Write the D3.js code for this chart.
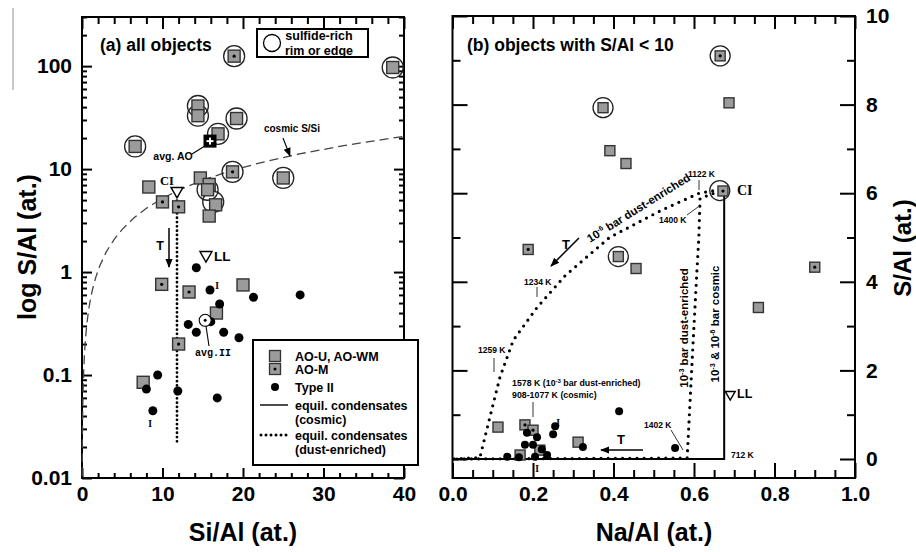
<!DOCTYPE html>
<html><head><meta charset="utf-8">
<script src="https://cdn.jsdelivr.net/npm/d3@7/dist/d3.min.js"></script>
<style>
body{margin:0;background:#fff;}
svg{font-family:"Liberation Sans",Arial,sans-serif;font-weight:bold;}
.serif{font-family:"Liberation Serif","Times New Roman",serif;}
.mono{font-family:"Liberation Mono","DejaVu Sans Mono",monospace;}
</style></head>
<body><svg id="c" width="916" height="552"></svg>
<script>
// ---------- data: panel (a) Si/Al vs S/Al (log) ----------
const aAOU = [[38.6,97],[14.4,41],[14.4,33],[19.2,31],[16.9,22],[6.6,16.6],[25.0,8.2],[8.3,6.7],[14.7,8.2],[15.8,7.1],[15.6,6.3],[16.6,4.5],[15.8,3.5],[20.0,0.75],[16.7,0.40],[7.6,0.085]];
const aAOM = [[18.9,125],[18.7,9.4],[10.0,4.8],[12.0,4.3],[9.9,0.76],[13.3,0.64],[12.0,0.20]];
const aTypeII = [[14.2,1.1],[15.9,0.67],[21.3,0.57],[27.1,0.60],[17.1,0.49],[16.0,0.33],[13.2,0.31],[14.2,0.26],[17.6,0.26],[19.5,0.23],[8.0,0.073],[9.4,0.10],[11.9,0.07],[8.8,0.045],[16.8,0.06]];
const aRims = [[18.9,125],[38.6,97],[14.4,41],[14.4,33],[19.2,31],[16.9,22],[6.6,16.6],[18.7,9.4],[25.0,8.2],[15.6,6.3],[16.3,4.8]];
const aAvgAO = [15.9,18.7];
const aAvgII = [15.3,0.34];
const aCI = [11.8,6.0];
const aLL = [15.4,1.43];
const aDustLine = [[11.8,6.0],[11.8,0.021]];
const cosmicSSi = 0.52; // cosmic S/Si ratio line
const cosmicX = [0.02,0.03,0.05,0.07,0.1,0.15,0.2,0.3,0.45,0.6,0.8,1,1.3,1.7,2.2,3,4,5,6.5,8,10,12,15,18,22,27,33,40];
const aXMajor = [0,10,20,30,40];
const aYMajor = [0.01,0.1,1,10,100];

// ---------- data: panel (b) Na/Al vs S/Al ----------
const bAOU = [[0.687,8.04],[0.374,7.93],[0.391,6.96],[0.431,6.67],[0.412,4.57],[0.456,4.30],[0.76,3.42],[0.113,0.72],[0.312,0.38],[0.168,0.09]];
const bAOM = [[0.665,9.1],[0.672,6.05],[0.188,4.73],[0.90,4.33],[0.18,0.77],[0.20,0.65],[0.217,0.20]];
const bTypeII = [[0.185,0.59],[0.21,0.49],[0.255,0.74],[0.25,0.56],[0.414,1.08],[0.324,0.27],[0.553,0.25],[0.18,0.32],[0.20,0.32],[0.222,0.22],[0.235,0.09],[0.205,0.05],[0.165,0.04],[0.136,0.05]];
const bRims = [[0.665,9.1],[0.374,7.93],[0.664,6.06],[0.412,4.57]];
const bLL = [0.69,1.44];
const bCosmic = [[0.675,6.02],[0.675,0],[0,0]];
const bDust3 = [[0.664,6.05],[0.615,5.88],[0.612,5.0],[0.607,4.2],[0.597,2.5],[0.583,0.02],[0,0]];
const bDust6 = [[0.664,6.08],[0.613,6.0],[0.52,5.62],[0.39,5.0],[0.28,4.14],[0.21,3.42],[0.151,2.68],[0.118,1.85],[0.093,0.95],[0.068,0.03],[0,0]];
const bXMajor = [0,0.2,0.4,0.6,0.8,1.0];
const bYMajor = [0,2,4,6,8,10];

const svg = d3.select("#c");
const defs = svg.append("defs");
defs.append("marker").attr("id","arr").attr("viewBox","0 0 10 10").attr("refX",9).attr("refY",5)
  .attr("markerWidth",9).attr("markerHeight",9).attr("markerUnits","userSpaceOnUse").attr("orient","auto")
  .append("path").attr("d","M0,1 L10,5 L0,9 Z").attr("fill","#000");

// scales
const xA = d3.scaleLinear().domain([0,40]).range([82,404]);
const yA = d3.scaleLog().domain([0.01,300]).range([478,17]);
const xB = d3.scaleLinear().domain([0,1]).range([452.5,855]);
const yB = d3.scaleLinear().domain([0,10]).range([459,16]);

// stray thin line at far left
svg.append("line").attr("x1",13).attr("x2",13).attr("y1",8).attr("y2",90).attr("stroke","#777").attr("stroke-width",0.8);

function styleAxis(g, fs){
  g.select(".domain").remove();
  g.selectAll(".tick line").attr("stroke","#000").attr("stroke-width",2);
  g.selectAll(".tick text").attr("font-size",fs).attr("font-weight","bold").attr("fill","#000")
    .attr("font-family","Liberation Sans, Arial, sans-serif");
}
function addAxis(axis, tx, ty, fs){
  const g = svg.append("g").attr("transform",`translate(${tx},${ty})`).call(axis);
  styleAxis(g, fs||19);
  return g;
}

// ----- panel (a) axes -----
const aXMinor = d3.range(2,40,2).filter(v=>v%10!==0);
addAxis(d3.axisBottom(xA).tickValues(aXMajor).tickSize(-10).tickPadding(8).tickFormat(d3.format("d")),0,478,21);
addAxis(d3.axisBottom(xA).tickValues(aXMinor).tickSize(-5).tickFormat(""),0,478);
addAxis(d3.axisTop(xA).tickValues(aXMajor).tickSize(-12).tickFormat(""),0,17);
addAxis(d3.axisTop(xA).tickValues(aXMinor).tickSize(-7).tickFormat(""),0,17);
const aYMinor = [];
[0.01,0.1,1,10,100].forEach(d=>{for(let k=2;k<=9;k++){const v=d*k; if(v<=300) aYMinor.push(v);}});
const fmtA = d=> String(d);
addAxis(d3.axisLeft(yA).tickValues(aYMajor).tickSize(-10).tickPadding(10).tickFormat(fmtA),82,0,21);
addAxis(d3.axisLeft(yA).tickValues(aYMinor).tickSize(-5).tickFormat(""),82,0);
addAxis(d3.axisRight(yA).tickValues(aYMajor).tickSize(-10).tickFormat(""),404,0);
addAxis(d3.axisRight(yA).tickValues(aYMinor).tickSize(-5).tickFormat(""),404,0);
svg.append("rect").attr("x",82).attr("y",17).attr("width",404-82).attr("height",478-17)
  .attr("fill","none").attr("stroke","#000").attr("stroke-width",2);

// ----- panel (b) axes -----
const bXMinor = d3.range(0.05,1.0,0.05).map(v=>+v.toFixed(2)).filter(v=>Math.abs(v*5-Math.round(v*5))>1e-6);
const bYMinor = [1,3,5,7,9];
addAxis(d3.axisBottom(xB).tickValues(bXMajor).tickSize(-15).tickPadding(8).tickFormat(d3.format(".1f")),0,478,21);
addAxis(d3.axisBottom(xB).tickValues(bXMinor).tickSize(-8).tickFormat(""),0,478);
addAxis(d3.axisTop(xB).tickValues(bXMajor).tickSize(-13).tickFormat(""),0,16);
addAxis(d3.axisTop(xB).tickValues(bXMinor).tickSize(-8).tickFormat(""),0,16);
addAxis(d3.axisLeft(yB).tickValues(bYMajor).tickSize(-15).tickFormat(""),452.5,0);
addAxis(d3.axisLeft(yB).tickValues(bYMinor).tickSize(-8).tickFormat(""),452.5,0);
addAxis(d3.axisRight(yB).tickValues(bYMajor).tickSize(-15).tickPadding(11).tickFormat(d3.format("d")),855,0,21);
addAxis(d3.axisRight(yB).tickValues(bYMinor).tickSize(-8).tickFormat(""),855,0);
svg.append("rect").attr("x",452.5).attr("y",16).attr("width",855-452.5).attr("height",478-16)
  .attr("fill","none").attr("stroke","#000").attr("stroke-width",2);

// axis titles
svg.append("text").attr("x",243).attr("y",541).attr("text-anchor","middle").attr("font-size",25).text("Si/Al (at.)");
svg.append("text").attr("x",654).attr("y",541).attr("text-anchor","middle").attr("font-size",25).text("Na/Al (at.)");
svg.append("text").attr("transform","translate(36,247) rotate(-90)").attr("text-anchor","middle").attr("font-size",25).text("log S/Al (at.)");
svg.append("text").attr("transform","translate(911,248) rotate(-90)").attr("text-anchor","middle").attr("font-size",24).text("S/Al (at.)");

// helpers
function squares(data, xs, ys, size, dotted){
  const h=size/2;
  const g=svg.append("g");
  data.forEach(d=>{
    const cx=xs(d[0]), cy=ys(d[1]);
    g.append("rect").attr("x",cx-h).attr("y",cy-h).attr("width",size).attr("height",size)
      .attr("fill","#9b9b9b").attr("stroke","#333").attr("stroke-width",1.4);
    if(dotted) g.append("circle").attr("cx",cx).attr("cy",cy).attr("r",1.6).attr("fill","#000");
  });
}
function dots(data, xs, ys, r){
  svg.append("g").selectAll("circle").data(data).join("circle")
    .attr("cx",d=>xs(d[0])).attr("cy",d=>ys(d[1])).attr("r",r).attr("fill","#000");
}
function rims(data, xs, ys, r){
  svg.append("g").selectAll("circle").data(data).join("circle")
    .attr("cx",d=>xs(d[0])).attr("cy",d=>ys(d[1])).attr("r",r)
    .attr("fill","none").attr("stroke","#222").attr("stroke-width",1.3);
}
function tri(p, xs, ys, s){
  const cx=xs(p[0]), cy=ys(p[1]);
  svg.append("path").attr("d",`M${cx-s},${cy-s*0.75} L${cx+s},${cy-s*0.75} L${cx},${cy+s} Z`)
    .attr("fill","#fff").attr("stroke","#000").attr("stroke-width",1.4);
}
function txt(x,y,s,fs,anchor,cls){
  return svg.append("text").attr("x",x).attr("y",y).attr("font-size",fs)
    .attr("text-anchor",anchor||"start").attr("class",cls||null).text(s);
}
function seg(x1,y1,x2,y2,w,arrow,col){
  const l=svg.append("line").attr("x1",x1).attr("y1",y1).attr("x2",x2).attr("y2",y2)
    .attr("stroke",col||"#000").attr("stroke-width",w||1);
  if(arrow) l.attr("marker-end","url(#arr)");
  return l;
}

// ----- panel (a) content -----
const lineA = d3.line().x(d=>xA(d[0])).y(d=>yA(d[1]));
svg.append("path").attr("d",lineA(cosmicX.map(x=>[x,cosmicSSi*x]))).attr("fill","none")
  .attr("stroke","#444").attr("stroke-width",1.3).attr("stroke-dasharray","9,5");
svg.append("path").attr("d",lineA(aDustLine)).attr("fill","none").attr("stroke","#000")
  .attr("stroke-width",2.8).attr("stroke-dasharray","0,4.3").attr("stroke-linecap","round");

rims(aRims, xA, yA, 10.5);
squares(aAOU, xA, yA, 12, false);
squares(aAOM, xA, yA, 12, true);
dots(aTypeII, xA, yA, 4.5);
// avg AO
{const cx=xA(aAvgAO[0]), cy=yA(aAvgAO[1]);
 svg.append("rect").attr("x",cx-6.5).attr("y",cy-6.5).attr("width",13).attr("height",13).attr("fill","#000");
 seg(cx-3.5,cy,cx+3.5,cy,2,false,"#fff"); seg(cx,cy-3.5,cx,cy+3.5,2,false,"#fff");}
// avg II
{const cx=xA(aAvgII[0]), cy=yA(aAvgII[1]);
 svg.append("circle").attr("cx",cx).attr("cy",cy).attr("r",6).attr("fill","#fff").attr("stroke","#000").attr("stroke-width",1.1);
 svg.append("circle").attr("cx",cx).attr("cy",cy).attr("r",1.5).attr("fill","#000");}
tri(aCI, xA, yA, 6);
tri(aLL, xA, yA, 6);

txt(100,51,"(a) all objects",17.5);
txt(160,185,"CI",12.5,"start","serif");
txt(214,261,"LL",13.5);
txt(160,250,"T",12.5,"middle");
seg(169,228,169,267,1.5,true);
txt(173,160,"avg. AO",10.5,"middle");
seg(192,154,208,144,1.1);
txt(213,356,"avg.II",10,"middle","mono");
seg(206,326,209,346,1.1);
txt(292,132,"cosmic S/Si",10,"middle");
seg(283,138,290,156,1.1,true);
txt(217,289,"I",9.5,"middle","serif");
txt(150,427,"I",9.5,"middle","serif");

// sulfide-rich box
svg.append("rect").attr("x",257).attr("y",29).attr("width",111).attr("height",28).attr("fill","#fff").attr("stroke","#000").attr("stroke-width",2);
svg.append("circle").attr("cx",272).attr("cy",43).attr("r",8.5).attr("fill","none").attr("stroke","#000").attr("stroke-width",1.3);
txt(319,40,"sulfide-rich",12.5,"middle");
txt(319,55,"rim or edge",12.5,"middle");

// legend
svg.append("rect").attr("x",253).attr("y",340).attr("width",165).attr("height",125).attr("fill","#fff").attr("stroke","#000").attr("stroke-width",2);
const lx=275;
const legTexts = [["AO-U, AO-WM",361],["AO-M",374],["Type II",392],["equil. condensates",410],["(cosmic)",424],["equil. condensates",440],["(dust-enriched)",454]];
legTexts.forEach(t=>txt(295,t[1],t[0],12.5));
svg.append("rect").attr("x",lx-5.5).attr("y",356-5.5).attr("width",11).attr("height",11).attr("fill","#9b9b9b").attr("stroke","#333").attr("stroke-width",1.3);
svg.append("rect").attr("x",lx-5.5).attr("y",369-5.5).attr("width",11).attr("height",11).attr("fill","#9b9b9b").attr("stroke","#333").attr("stroke-width",1.3);
svg.append("circle").attr("cx",lx).attr("cy",369).attr("r",1.5).attr("fill","#000");
svg.append("circle").attr("cx",lx).attr("cy",387).attr("r",4).attr("fill","#000");
seg(260,405,288,405,1.4);
svg.append("line").attr("x1",261).attr("x2",288).attr("y1",435).attr("y2",435).attr("stroke","#000")
  .attr("stroke-width",3).attr("stroke-dasharray","0,5").attr("stroke-linecap","round");

// ----- panel (b) content -----
const lineB = d3.line().x(d=>xB(d[0])).y(d=>yB(d[1]));
svg.append("path").attr("d",lineB(bCosmic)).attr("fill","none").attr("stroke","#000").attr("stroke-width",2);
[bDust3,bDust6].forEach(L=>svg.append("path").attr("d",lineB(L)).attr("fill","none").attr("stroke","#000")
  .attr("stroke-width",3.2).attr("stroke-dasharray","0,7.2").attr("stroke-linecap","round"));

rims(bRims, xB, yB, 10);
squares(bAOU, xB, yB, 10, false);
squares(bAOM, xB, yB, 10, true);
dots(bTypeII, xB, yB, 4);
tri(bLL, xB, yB, 5);

txt(467,51,"(b) objects with S/Al < 10",17.5);
txt(737,195,"CI",14,"start","serif");
txt(737,398,"LL",12.5);
txt(688,177,"1122 K",8.5);
seg(699,180,699,190,0.8);
txt(659,223,"1400 K",8.5);
seg(687,215,698,207,0.8);
txt(524,285,"1234 K",8.5);
seg(537,287,537,297,0.8);
txt(478,353,"1259 K",8.5);
seg(494,358,494,372,0.8);
txt(644,428,"1402 K",8.5);
seg(671,430,683,450,0.8);
txt(731,458,"712 K",8.5);
{const t=txt(512,386,"",8.8); t.append("tspan").text("1578 K (10");
 t.append("tspan").attr("font-size",6).attr("dy",-3).text("-3");
 t.append("tspan").attr("dy",3).text(" bar dust-enriched)");}
txt(512,398,"908-1077 K (cosmic)",8.8);
seg(533,402,533,417,0.8);
txt(558,426,"I",9.5,"middle","serif");
txt(537,472,"I",9.5,"middle","serif");

function supText(x,y,rot,fs,parts,anchor){
  const t=svg.append("text").attr("transform",`translate(${x},${y}) rotate(${rot})`).attr("font-size",fs).attr("text-anchor",anchor||"start");
  parts.forEach(p=>{
    if(p[1]) t.append("tspan").attr("font-size",fs*0.62).attr("dy",-fs*0.38).text(p[0]);
    else t.append("tspan").attr("dy",p[2]||0).text(p[0]);
  });
  return t;
}
supText(590,243,-32,11.5,[["10",0],["-6",1],[" bar dust-enriched",0,11.5*0.38]]);
supText(688,328,-90,11.5,[["10",0],["-3",1],[" bar dust-enriched",0,11.5*0.38]],"middle");
supText(719,324,-90,11.5,[["10",0],["-3",1],[" & 10",0,11.5*0.38],["-6",1],[" bar cosmic",0,11.5*0.38]],"middle");

txt(566,249,"T",13,"middle");
seg(579,238,551,266,1.5,true);
txt(621,444,"T",13,"middle");
seg(643,450,601,450,1.3,true);
</script></body></html>
